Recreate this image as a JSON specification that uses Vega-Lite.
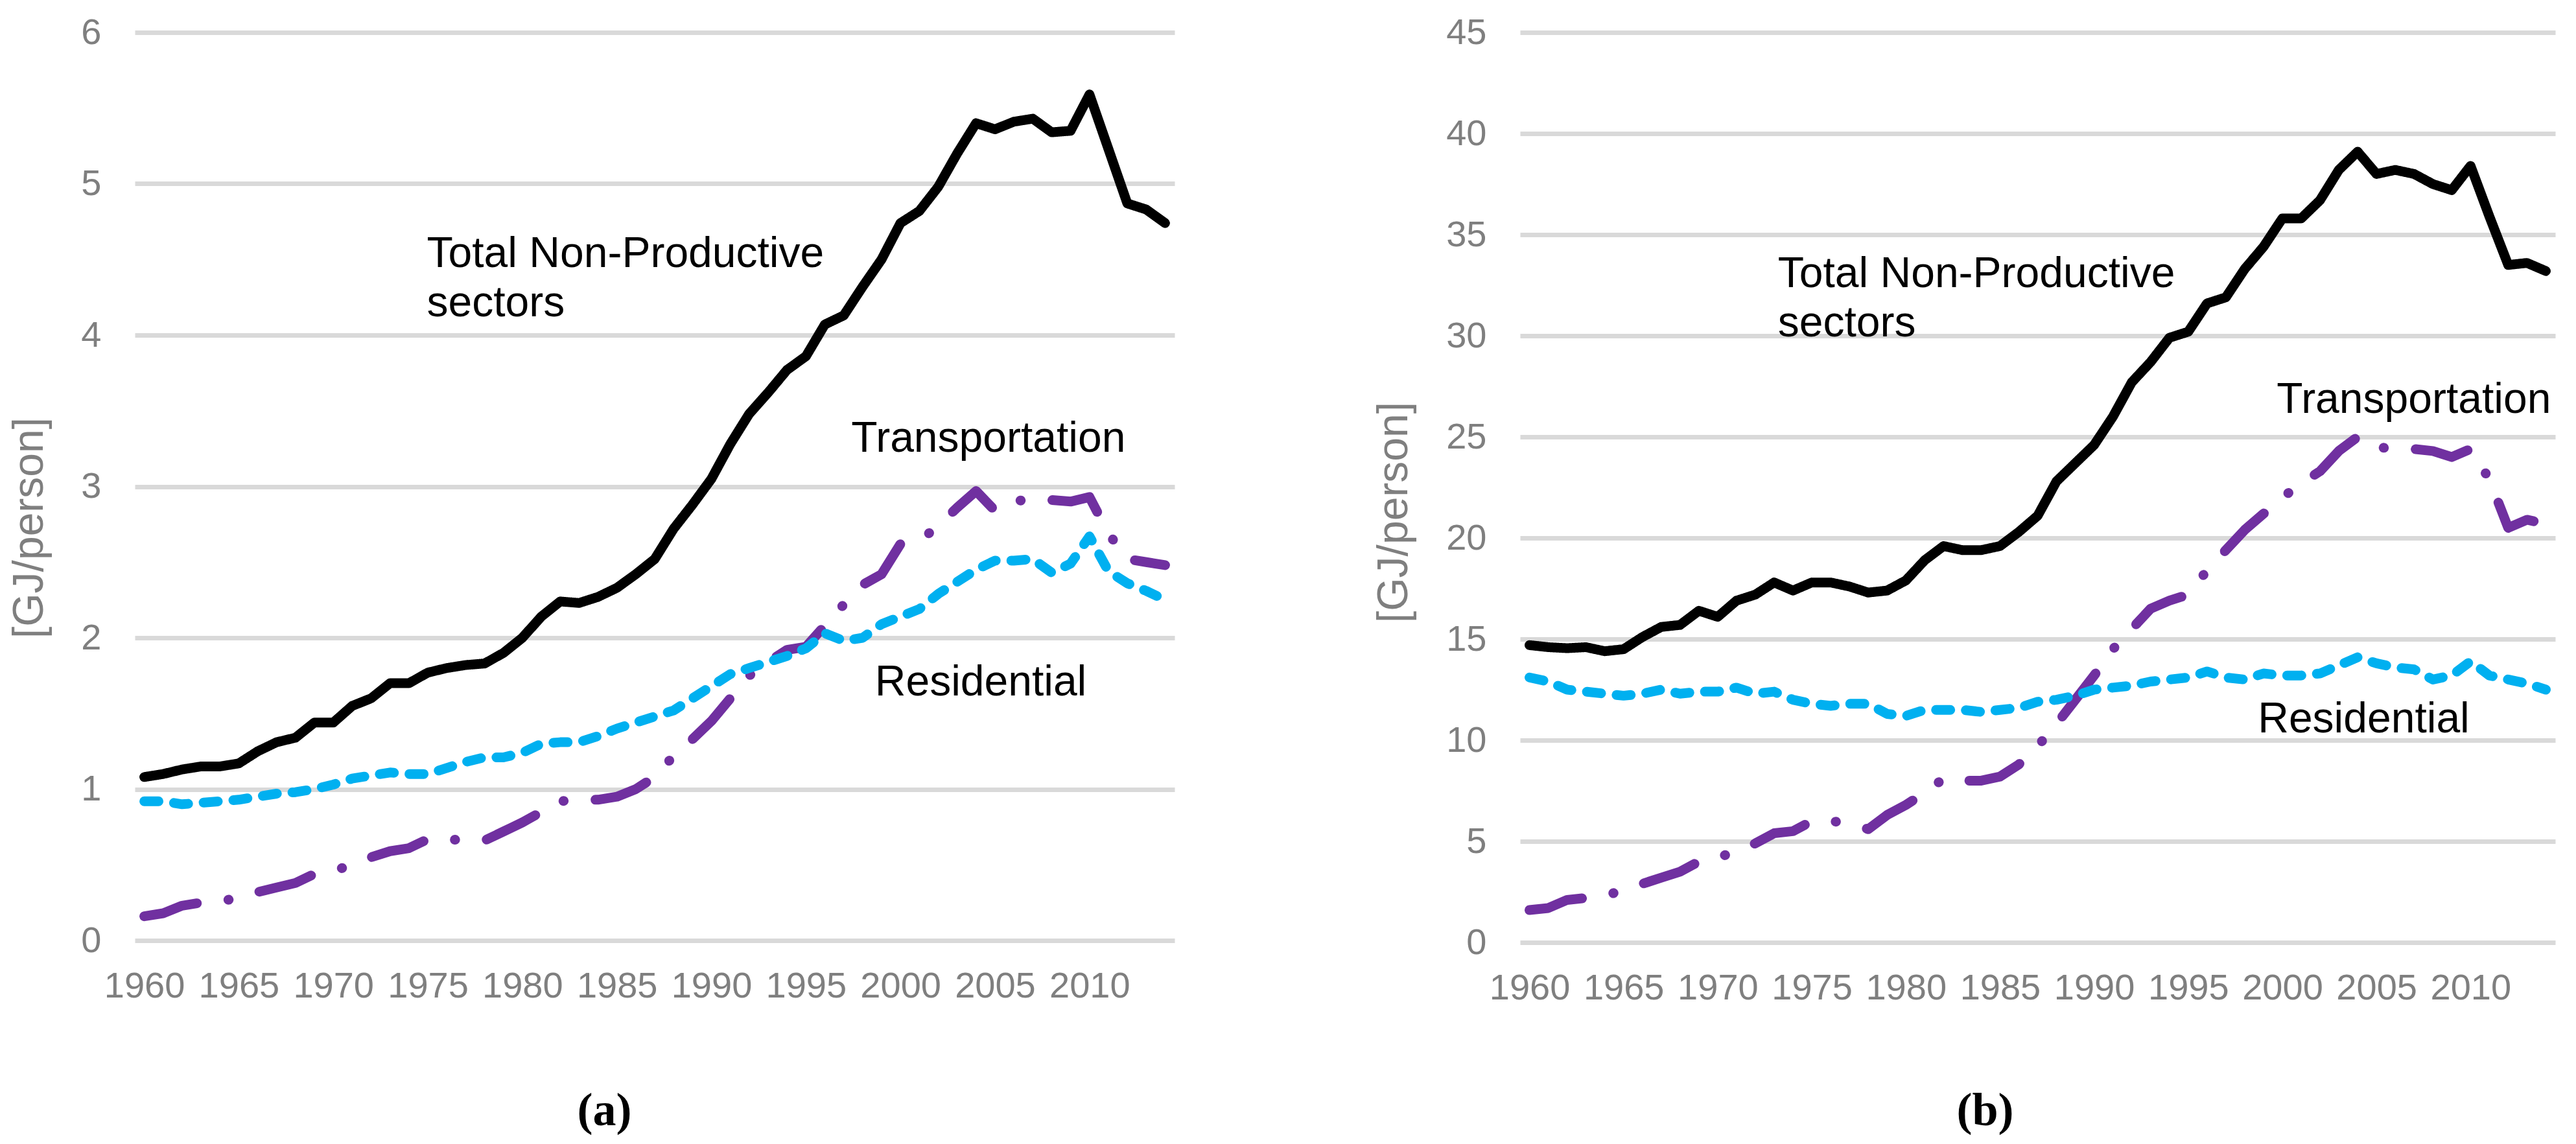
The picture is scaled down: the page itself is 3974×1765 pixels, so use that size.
{
"$schema":"https://vega.github.io/schema/vega-lite/v6.json",
"background":"white",
"padding":{"left":12,"top":22,"right":10,"bottom":5},
"bounds":"flush",
"spacing":533,
"config":{"view":{"stroke":null},
 "axis":{"domain":false,"ticks":false,"labelFont":"Liberation Sans","labelFontSize":56,"labelColor":"#7F7F7F","titleFont":"Liberation Sans","titleFontWeight":"normal","titleFontSize":66,"titleColor":"#7F7F7F"},
 "axisY":{"grid":true,"gridColor":"#D9D9D9","gridWidth":7,"labelPadding":52,"titleAngle":270,"titleBaseline":"middle","titleAlign":"center"},
 "axisX":{"grid":false,"labelPadding":43,"titleFont":"Liberation Serif","titleFontSize":72,"titleFontWeight":"bold","titleColor":"#000000","titleBaseline":"alphabetic","titleAlign":"center"}},
"datasets":{
"a":[
{"s":"Total","x":1960,"v":1.08},{"s":"Total","x":1961,"v":1.10},{"s":"Total","x":1962,"v":1.13},{"s":"Total","x":1963,"v":1.15},{"s":"Total","x":1964,"v":1.15},{"s":"Total","x":1965,"v":1.17},{"s":"Total","x":1966,"v":1.25},{"s":"Total","x":1967,"v":1.31},{"s":"Total","x":1968,"v":1.34},{"s":"Total","x":1969,"v":1.44},
{"s":"Total","x":1970,"v":1.44},{"s":"Total","x":1971,"v":1.55},{"s":"Total","x":1972,"v":1.60},{"s":"Total","x":1973,"v":1.70},{"s":"Total","x":1974,"v":1.70},{"s":"Total","x":1975,"v":1.77},{"s":"Total","x":1976,"v":1.80},{"s":"Total","x":1977,"v":1.82},{"s":"Total","x":1978,"v":1.83},{"s":"Total","x":1979,"v":1.90},
{"s":"Total","x":1980,"v":2.00},{"s":"Total","x":1981,"v":2.14},{"s":"Total","x":1982,"v":2.24},{"s":"Total","x":1983,"v":2.23},{"s":"Total","x":1984,"v":2.27},{"s":"Total","x":1985,"v":2.33},{"s":"Total","x":1986,"v":2.42},{"s":"Total","x":1987,"v":2.52},{"s":"Total","x":1988,"v":2.72},{"s":"Total","x":1989,"v":2.88},
{"s":"Total","x":1990,"v":3.05},{"s":"Total","x":1991,"v":3.28},{"s":"Total","x":1992,"v":3.48},{"s":"Total","x":1993,"v":3.62},{"s":"Total","x":1994,"v":3.77},{"s":"Total","x":1995,"v":3.86},{"s":"Total","x":1996,"v":4.07},{"s":"Total","x":1997,"v":4.13},{"s":"Total","x":1998,"v":4.32},{"s":"Total","x":1999,"v":4.50},
{"s":"Total","x":2000,"v":4.74},{"s":"Total","x":2001,"v":4.82},{"s":"Total","x":2002,"v":4.98},{"s":"Total","x":2003,"v":5.20},{"s":"Total","x":2004,"v":5.40},{"s":"Total","x":2005,"v":5.36},{"s":"Total","x":2006,"v":5.41},{"s":"Total","x":2007,"v":5.43},{"s":"Total","x":2008,"v":5.34},{"s":"Total","x":2009,"v":5.35},
{"s":"Total","x":2010,"v":5.59},{"s":"Total","x":2011,"v":5.23},{"s":"Total","x":2012,"v":4.87},{"s":"Total","x":2013,"v":4.83},{"s":"Total","x":2014,"v":4.74},
{"s":"Transportation","x":1960,"v":0.16},{"s":"Transportation","x":1961,"v":0.18},{"s":"Transportation","x":1962,"v":0.23},{"s":"Transportation","x":1963,"v":0.25},{"s":"Transportation","x":1964,"v":0.26},{"s":"Transportation","x":1965,"v":0.28},{"s":"Transportation","x":1966,"v":0.32},{"s":"Transportation","x":1967,"v":0.35},{"s":"Transportation","x":1968,"v":0.38},{"s":"Transportation","x":1969,"v":0.44},
{"s":"Transportation","x":1970,"v":0.46},{"s":"Transportation","x":1971,"v":0.50},{"s":"Transportation","x":1972,"v":0.55},{"s":"Transportation","x":1973,"v":0.59},{"s":"Transportation","x":1974,"v":0.61},{"s":"Transportation","x":1975,"v":0.67},{"s":"Transportation","x":1976,"v":0.67},{"s":"Transportation","x":1977,"v":0.66},{"s":"Transportation","x":1978,"v":0.66},{"s":"Transportation","x":1979,"v":0.72},
{"s":"Transportation","x":1980,"v":0.78},{"s":"Transportation","x":1981,"v":0.85},{"s":"Transportation","x":1982,"v":0.92},{"s":"Transportation","x":1983,"v":0.93},{"s":"Transportation","x":1984,"v":0.93},{"s":"Transportation","x":1985,"v":0.95},{"s":"Transportation","x":1986,"v":1.00},{"s":"Transportation","x":1987,"v":1.08},{"s":"Transportation","x":1988,"v":1.22},{"s":"Transportation","x":1989,"v":1.33},
{"s":"Transportation","x":1990,"v":1.45},{"s":"Transportation","x":1991,"v":1.60},{"s":"Transportation","x":1992,"v":1.75},{"s":"Transportation","x":1993,"v":1.84},{"s":"Transportation","x":1994,"v":1.92},{"s":"Transportation","x":1995,"v":1.94},{"s":"Transportation","x":1996,"v":2.08},{"s":"Transportation","x":1997,"v":2.22},{"s":"Transportation","x":1998,"v":2.35},{"s":"Transportation","x":1999,"v":2.42},
{"s":"Transportation","x":2000,"v":2.62},{"s":"Transportation","x":2001,"v":2.64},{"s":"Transportation","x":2002,"v":2.74},{"s":"Transportation","x":2003,"v":2.86},{"s":"Transportation","x":2004,"v":2.97},{"s":"Transportation","x":2005,"v":2.84},{"s":"Transportation","x":2006,"v":2.90},{"s":"Transportation","x":2007,"v":2.92},{"s":"Transportation","x":2008,"v":2.91},{"s":"Transportation","x":2009,"v":2.90},
{"s":"Transportation","x":2010,"v":2.93},{"s":"Transportation","x":2011,"v":2.69},{"s":"Transportation","x":2012,"v":2.52},{"s":"Transportation","x":2013,"v":2.50},{"s":"Transportation","x":2014,"v":2.48},
{"s":"Residential","x":1960,"v":0.92},{"s":"Residential","x":1961,"v":0.92},{"s":"Residential","x":1962,"v":0.90},{"s":"Residential","x":1963,"v":0.91},{"s":"Residential","x":1964,"v":0.92},{"s":"Residential","x":1965,"v":0.93},{"s":"Residential","x":1966,"v":0.95},{"s":"Residential","x":1967,"v":0.97},{"s":"Residential","x":1968,"v":0.98},{"s":"Residential","x":1969,"v":1.00},
{"s":"Residential","x":1970,"v":1.03},{"s":"Residential","x":1971,"v":1.07},{"s":"Residential","x":1972,"v":1.09},{"s":"Residential","x":1973,"v":1.11},{"s":"Residential","x":1974,"v":1.10},{"s":"Residential","x":1975,"v":1.10},{"s":"Residential","x":1976,"v":1.14},{"s":"Residential","x":1977,"v":1.18},{"s":"Residential","x":1978,"v":1.21},{"s":"Residential","x":1979,"v":1.21},
{"s":"Residential","x":1980,"v":1.24},{"s":"Residential","x":1981,"v":1.30},{"s":"Residential","x":1982,"v":1.31},{"s":"Residential","x":1983,"v":1.31},{"s":"Residential","x":1984,"v":1.35},{"s":"Residential","x":1985,"v":1.40},{"s":"Residential","x":1986,"v":1.44},{"s":"Residential","x":1987,"v":1.48},{"s":"Residential","x":1988,"v":1.52},{"s":"Residential","x":1989,"v":1.60},
{"s":"Residential","x":1990,"v":1.68},{"s":"Residential","x":1991,"v":1.76},{"s":"Residential","x":1992,"v":1.80},{"s":"Residential","x":1993,"v":1.84},{"s":"Residential","x":1994,"v":1.88},{"s":"Residential","x":1995,"v":1.93},{"s":"Residential","x":1996,"v":2.03},{"s":"Residential","x":1997,"v":1.98},{"s":"Residential","x":1998,"v":2.00},{"s":"Residential","x":1999,"v":2.09},
{"s":"Residential","x":2000,"v":2.14},{"s":"Residential","x":2001,"v":2.19},{"s":"Residential","x":2002,"v":2.29},{"s":"Residential","x":2003,"v":2.37},{"s":"Residential","x":2004,"v":2.45},{"s":"Residential","x":2005,"v":2.51},{"s":"Residential","x":2006,"v":2.51},{"s":"Residential","x":2007,"v":2.52},{"s":"Residential","x":2008,"v":2.43},{"s":"Residential","x":2009,"v":2.49},
{"s":"Residential","x":2010,"v":2.67},{"s":"Residential","x":2011,"v":2.44},{"s":"Residential","x":2012,"v":2.36},{"s":"Residential","x":2013,"v":2.31},{"s":"Residential","x":2014,"v":2.25}
],
"b":[
{"s":"Total","x":1960,"v":14.7},{"s":"Total","x":1961,"v":14.6},{"s":"Total","x":1962,"v":14.55},{"s":"Total","x":1963,"v":14.6},{"s":"Total","x":1964,"v":14.4},{"s":"Total","x":1965,"v":14.5},{"s":"Total","x":1966,"v":15.1},{"s":"Total","x":1967,"v":15.6},{"s":"Total","x":1968,"v":15.7},{"s":"Total","x":1969,"v":16.4},
{"s":"Total","x":1970,"v":16.1},{"s":"Total","x":1971,"v":16.9},{"s":"Total","x":1972,"v":17.2},{"s":"Total","x":1973,"v":17.8},{"s":"Total","x":1974,"v":17.4},{"s":"Total","x":1975,"v":17.8},{"s":"Total","x":1976,"v":17.8},{"s":"Total","x":1977,"v":17.6},{"s":"Total","x":1978,"v":17.3},{"s":"Total","x":1979,"v":17.4},
{"s":"Total","x":1980,"v":17.9},{"s":"Total","x":1981,"v":18.9},{"s":"Total","x":1982,"v":19.6},{"s":"Total","x":1983,"v":19.4},{"s":"Total","x":1984,"v":19.4},{"s":"Total","x":1985,"v":19.6},{"s":"Total","x":1986,"v":20.3},{"s":"Total","x":1987,"v":21.1},{"s":"Total","x":1988,"v":22.8},{"s":"Total","x":1989,"v":23.7},
{"s":"Total","x":1990,"v":24.6},{"s":"Total","x":1991,"v":26.0},{"s":"Total","x":1992,"v":27.7},{"s":"Total","x":1993,"v":28.7},{"s":"Total","x":1994,"v":29.9},{"s":"Total","x":1995,"v":30.2},{"s":"Total","x":1996,"v":31.6},{"s":"Total","x":1997,"v":31.9},{"s":"Total","x":1998,"v":33.3},{"s":"Total","x":1999,"v":34.4},
{"s":"Total","x":2000,"v":35.8},{"s":"Total","x":2001,"v":35.8},{"s":"Total","x":2002,"v":36.7},{"s":"Total","x":2003,"v":38.2},{"s":"Total","x":2004,"v":39.1},{"s":"Total","x":2005,"v":38.0},{"s":"Total","x":2006,"v":38.2},{"s":"Total","x":2007,"v":38.0},{"s":"Total","x":2008,"v":37.5},{"s":"Total","x":2009,"v":37.2},
{"s":"Total","x":2010,"v":38.4},{"s":"Total","x":2011,"v":35.9},{"s":"Total","x":2012,"v":33.5},{"s":"Total","x":2013,"v":33.6},{"s":"Total","x":2014,"v":33.2},
{"s":"Transportation","x":1960,"v":1.6},{"s":"Transportation","x":1961,"v":1.7},{"s":"Transportation","x":1962,"v":2.1},{"s":"Transportation","x":1963,"v":2.2},{"s":"Transportation","x":1964,"v":2.3},{"s":"Transportation","x":1965,"v":2.6},{"s":"Transportation","x":1966,"v":2.9},{"s":"Transportation","x":1967,"v":3.2},{"s":"Transportation","x":1968,"v":3.5},{"s":"Transportation","x":1969,"v":4.0},
{"s":"Transportation","x":1970,"v":4.2},{"s":"Transportation","x":1971,"v":4.5},{"s":"Transportation","x":1972,"v":4.9},{"s":"Transportation","x":1973,"v":5.4},{"s":"Transportation","x":1974,"v":5.5},{"s":"Transportation","x":1975,"v":6.0},{"s":"Transportation","x":1976,"v":6.0},{"s":"Transportation","x":1977,"v":5.9},{"s":"Transportation","x":1978,"v":5.6},{"s":"Transportation","x":1979,"v":6.3},
{"s":"Transportation","x":1980,"v":6.8},{"s":"Transportation","x":1981,"v":7.4},{"s":"Transportation","x":1982,"v":8.1},{"s":"Transportation","x":1983,"v":8.0},{"s":"Transportation","x":1984,"v":8.0},{"s":"Transportation","x":1985,"v":8.2},{"s":"Transportation","x":1986,"v":8.8},{"s":"Transportation","x":1987,"v":9.7},{"s":"Transportation","x":1988,"v":10.8},{"s":"Transportation","x":1989,"v":12.0},
{"s":"Transportation","x":1990,"v":13.2},{"s":"Transportation","x":1991,"v":14.5},{"s":"Transportation","x":1992,"v":15.5},{"s":"Transportation","x":1993,"v":16.5},{"s":"Transportation","x":1994,"v":16.9},{"s":"Transportation","x":1995,"v":17.2},{"s":"Transportation","x":1996,"v":18.4},{"s":"Transportation","x":1997,"v":19.4},{"s":"Transportation","x":1998,"v":20.4},{"s":"Transportation","x":1999,"v":21.2},
{"s":"Transportation","x":2000,"v":22.0},{"s":"Transportation","x":2001,"v":22.7},{"s":"Transportation","x":2002,"v":23.3},{"s":"Transportation","x":2003,"v":24.3},{"s":"Transportation","x":2004,"v":25.0},{"s":"Transportation","x":2005,"v":24.5},{"s":"Transportation","x":2006,"v":24.4},{"s":"Transportation","x":2007,"v":24.4},{"s":"Transportation","x":2008,"v":24.3},{"s":"Transportation","x":2009,"v":24.0},
{"s":"Transportation","x":2010,"v":24.4},{"s":"Transportation","x":2011,"v":22.9},{"s":"Transportation","x":2012,"v":20.5},{"s":"Transportation","x":2013,"v":20.9},{"s":"Transportation","x":2014,"v":20.7},
{"s":"Residential","x":1960,"v":13.1},{"s":"Residential","x":1961,"v":12.9},{"s":"Residential","x":1962,"v":12.5},{"s":"Residential","x":1963,"v":12.4},{"s":"Residential","x":1964,"v":12.3},{"s":"Residential","x":1965,"v":12.2},{"s":"Residential","x":1966,"v":12.3},{"s":"Residential","x":1967,"v":12.5},{"s":"Residential","x":1968,"v":12.3},{"s":"Residential","x":1969,"v":12.4},
{"s":"Residential","x":1970,"v":12.4},{"s":"Residential","x":1971,"v":12.6},{"s":"Residential","x":1972,"v":12.3},{"s":"Residential","x":1973,"v":12.4},{"s":"Residential","x":1974,"v":12.0},{"s":"Residential","x":1975,"v":11.8},{"s":"Residential","x":1976,"v":11.7},{"s":"Residential","x":1977,"v":11.8},{"s":"Residential","x":1978,"v":11.8},{"s":"Residential","x":1979,"v":11.3},
{"s":"Residential","x":1980,"v":11.2},{"s":"Residential","x":1981,"v":11.5},{"s":"Residential","x":1982,"v":11.5},{"s":"Residential","x":1983,"v":11.5},{"s":"Residential","x":1984,"v":11.4},{"s":"Residential","x":1985,"v":11.5},{"s":"Residential","x":1986,"v":11.6},{"s":"Residential","x":1987,"v":11.9},{"s":"Residential","x":1988,"v":12.0},{"s":"Residential","x":1989,"v":12.2},
{"s":"Residential","x":1990,"v":12.5},{"s":"Residential","x":1991,"v":12.6},{"s":"Residential","x":1992,"v":12.7},{"s":"Residential","x":1993,"v":12.9},{"s":"Residential","x":1994,"v":13.0},{"s":"Residential","x":1995,"v":13.1},{"s":"Residential","x":1996,"v":13.4},{"s":"Residential","x":1997,"v":13.1},{"s":"Residential","x":1998,"v":13.0},{"s":"Residential","x":1999,"v":13.3},
{"s":"Residential","x":2000,"v":13.2},{"s":"Residential","x":2001,"v":13.2},{"s":"Residential","x":2002,"v":13.3},{"s":"Residential","x":2003,"v":13.7},{"s":"Residential","x":2004,"v":14.1},{"s":"Residential","x":2005,"v":13.8},{"s":"Residential","x":2006,"v":13.6},{"s":"Residential","x":2007,"v":13.5},{"s":"Residential","x":2008,"v":13.0},{"s":"Residential","x":2009,"v":13.2},
{"s":"Residential","x":2010,"v":13.9},{"s":"Residential","x":2011,"v":13.2},{"s":"Residential","x":2012,"v":13.0},{"s":"Residential","x":2013,"v":12.8},{"s":"Residential","x":2014,"v":12.5}
],
"aText":[
{"t":"Total Non-Productive\nsectors","x":1974.95,"v":4.45},
{"t":"Transportation","x":1997.4,"v":3.23},
{"t":"Residential","x":1998.65,"v":1.62}
],
"bText":[
{"t":"Total Non-Productive\nsectors","x":1973.2,"v":32.4},
{"t":"Transportation","x":1999.7,"v":26.2},
{"t":"Residential","x":1998.7,"v":10.4}
]
},
"hconcat":[
{"width":1604,"height":1401,
 "layer":[
  {"data":{"name":"a"},
   "mark":{"type":"line","strokeWidth":15,"strokeCap":"round","strokeJoin":"round"},
   "encoding":{
    "x":{"field":"x","type":"quantitative","scale":{"domain":[1959.5,2014.5],"nice":false,"zero":false},
         "axis":{"values":[1960,1965,1970,1975,1980,1985,1990,1995,2000,2005,2010],"format":"d","title":"(a)","titleX":724,"titleY":284}},
    "y":{"field":"v","type":"quantitative","scale":{"domain":[0,6],"nice":false},
         "axis":{"values":[0,1,2,3,4,5,6],"format":"d","title":"[GJ/person]","titleX":-163,"titleY":764}},
    "color":{"field":"s","type":"nominal","legend":null,"scale":{"domain":["Total","Transportation","Residential"],"range":["#000000","#7030A0","#00B0F0"]}},
    "strokeDash":{"field":"s","type":"nominal","legend":null,"scale":{"domain":["Total","Transportation","Residential"],"range":[[1,0],[84,49,0.5,49],[22,24]]}}
   }},
  {"data":{"name":"aText"},
   "mark":{"type":"text","align":"left","baseline":"alphabetic","font":"Liberation Sans","fontSize":66,"lineBreak":"\n","lineHeight":76,"color":"#000000"},
   "encoding":{"x":{"field":"x","type":"quantitative"},"y":{"field":"v","type":"quantitative"},"text":{"field":"t"}}}
 ]},
{"width":1597,"height":1404,
 "layer":[
  {"data":{"name":"b"},
   "mark":{"type":"line","strokeWidth":15,"strokeCap":"round","strokeJoin":"round"},
   "encoding":{
    "x":{"field":"x","type":"quantitative","scale":{"domain":[1959.5,2014.5],"nice":false,"zero":false},
         "axis":{"values":[1960,1965,1970,1975,1980,1985,1990,1995,2000,2005,2010],"format":"d","title":"(b)","titleX":717,"titleY":281}},
    "y":{"field":"v","type":"quantitative","scale":{"domain":[0,45],"nice":false},
         "axis":{"values":[0,5,10,15,20,25,30,35,40,45],"format":"d","title":"[GJ/person]","titleX":-195,"titleY":740}},
    "color":{"field":"s","type":"nominal","legend":null,"scale":{"domain":["Total","Transportation","Residential"],"range":["#000000","#7030A0","#00B0F0"]}},
    "strokeDash":{"field":"s","type":"nominal","legend":null,"scale":{"domain":["Total","Transportation","Residential"],"range":[[1,0],[84,49,0.5,49],[22,24]]}}
   }},
  {"data":{"name":"bText"},
   "mark":{"type":"text","align":"left","baseline":"alphabetic","font":"Liberation Sans","fontSize":66,"lineBreak":"\n","lineHeight":76,"color":"#000000"},
   "encoding":{"x":{"field":"x","type":"quantitative"},"y":{"field":"v","type":"quantitative"},"text":{"field":"t"}}}
 ]}
]
}
